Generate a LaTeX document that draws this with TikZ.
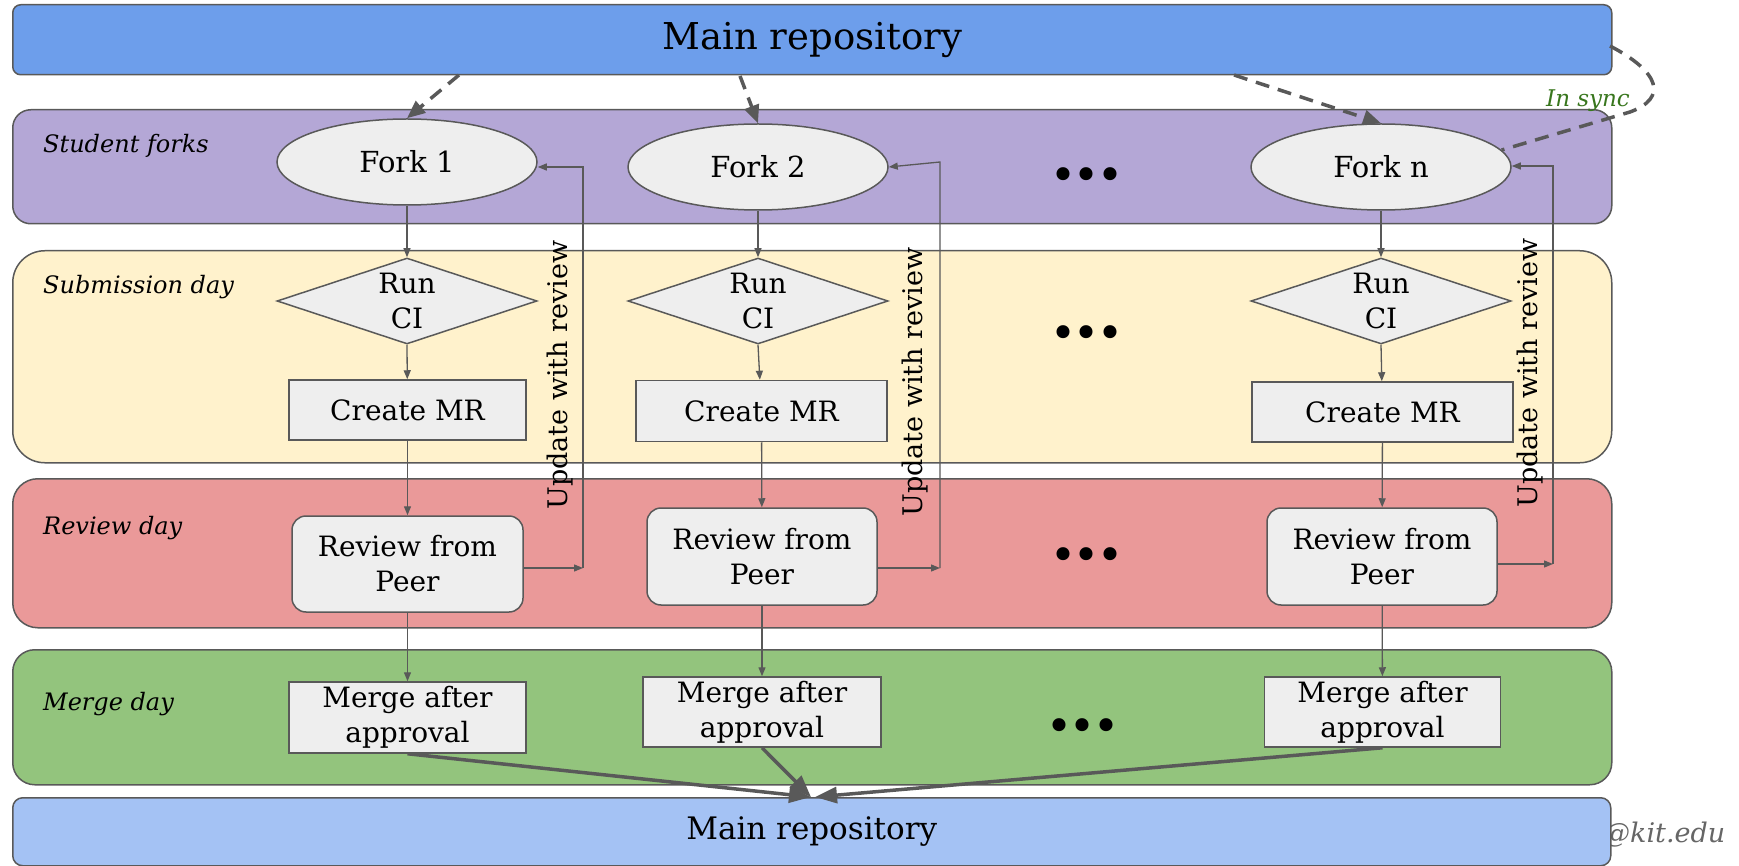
\documentclass[tikz,border=0pt]{standalone}
\usepackage{fontspec}
\setmainfont{DejaVu Serif}
\newfontfamily\dotfont{Liberation Serif}
\usetikzlibrary{shapes.geometric,arrows.meta}
\definecolor{topblue}{HTML}{6D9EEB}
\definecolor{botblue}{HTML}{A4C2F4}
\definecolor{lanepurple}{HTML}{B4A7D6}
\definecolor{laneyellow}{HTML}{FFF2CC}
\definecolor{lanered}{HTML}{EA9999}
\definecolor{lanegreen}{HTML}{93C47D}
\definecolor{boxfill}{HTML}{EEEEEE}
\definecolor{lc}{HTML}{595959}
\definecolor{syncgreen}{HTML}{38761D}
\definecolor{kitgray}{HTML}{666666}
\newcommand\fsBox{\fontsize{28}{35}\selectfont}
\newcommand\fsFork{\fontsize{29}{35}\selectfont}
\newcommand\fsLane{\itshape\fontsize{24}{28}\selectfont}
\newcommand\threedots{.\kern3.5pt.\kern3.5pt.}
\begin{document}
\begin{tikzpicture}[x=1pt,y=-1pt,
  lane/.style={draw=lc, line width=1.5pt, inner sep=0pt, anchor=north west},
  lanelbl/.style={anchor=base west, inner sep=0pt, font=\fsLane},
  fk/.style={ellipse, draw=lc, line width=1.5pt, fill=boxfill, minimum width=260pt, minimum height=86pt, inner sep=0pt, font=\fsFork},
  diam/.style={diamond, draw=lc, line width=1.5pt, fill=boxfill, minimum width=260pt, minimum height=86pt, inner sep=0pt},
  txt/.style={align=center, inner sep=0pt, font=\fsBox},
  rbox/.style={rectangle, draw=lc, line width=1.5pt, fill=boxfill, inner sep=0pt, align=center, font=\fsBox},
  revbox/.style={rbox, rounded corners=14pt},
  conn/.style={draw=lc, line width=1.3pt, -{Triangle[length=9pt,width=7pt]}},
  upd/.style={rotate=90, inner sep=0pt, font=\fontsize{27}{27}\selectfont},
  dasharr/.style={draw=lc, line width=3.5pt, dash pattern=on 14pt off 9pt, -{Triangle[length=18pt,width=15pt]}},
  dashline/.style={draw=lc, line width=3.5pt, dash pattern=on 14pt off 9pt},
  bigarr/.style={draw=lc, line width=3.5pt, -{Triangle[length=22pt,width=16pt]}},
  dots/.style={inner sep=0pt, font=\dotfont\bfseries\fontsize{80}{80}\selectfont}
]
\useasboundingbox (0,0) rectangle (1739,866);

% lanes
\node[lane, fill=topblue, rounded corners=8pt, minimum width=1599pt, minimum height=70pt, font=\fontsize{37}{37}\selectfont] (top) at (12,4) {Main repository};
\node[lane, fill=lanepurple, rounded corners=18pt, minimum width=1599pt, minimum height=114pt] (sf) at (12,109) {};
\node[lane, fill=laneyellow, rounded corners=32pt, minimum width=1599pt, minimum height=212pt] (sd) at (12,250) {};
\node[lane, fill=lanered, rounded corners=25pt, minimum width=1599pt, minimum height=149pt] (rd) at (12,478) {};
\node[lane, fill=lanegreen, rounded corners=22pt, minimum width=1599pt, minimum height=135pt] (md) at (12,649) {};
\node[anchor=base west, inner sep=0pt, text=kitgray, font=\itshape\fontsize{27}{27}\selectfont] (kit) at (1603,842) {@kit.edu};
\node[lane, fill=botblue, rounded corners=10pt, minimum width=1598pt, minimum height=68pt, font=\fontsize{31}{31}\selectfont] (bot) at (12,797) {Main repository};

\node[lanelbl] (l1) at (43,153) {Student forks};
\node[lanelbl] (l2) at (43,294) {Submission day};
\node[lanelbl] (l3) at (43,534) {Review day};
\node[lanelbl] (l4) at (43,710) {Merge day};

% column 1
\node[fk] (f1) at (407,162) {Fork 1};
\node[diam] (c1) at (407,301) {};
\node[txt] (c1t) at (c1) {Run\\CI};
\node[rbox, minimum width=237pt, minimum height=60pt] (m1) at (407.5,410) {Create MR};
\node[revbox, minimum width=231pt, minimum height=96pt] (r1) at (407.5,564) {Review from\\Peer};
\node[rbox, minimum width=237pt, minimum height=71pt] (g1) at (407.5,717.5) {Merge after\\approval};

% column 2
\node[fk] (f2) at (758,167) {Fork 2};
\node[diam] (c2) at (758,301) {};
\node[txt] (c2t) at (c2) {Run\\CI};
\node[rbox, minimum width=251pt, minimum height=61pt] (m2) at (761.5,411) {Create MR};
\node[revbox, minimum width=230pt, minimum height=97pt] (r2) at (762,556.5) {Review from\\Peer};
\node[rbox, minimum width=238pt, minimum height=70pt] (g2) at (762,712) {Merge after\\approval};

% column n
\node[fk] (fn) at (1381,167) {Fork n};
\node[diam] (cn) at (1381,301) {};
\node[txt] (cnt) at (cn) {Run\\CI};
\node[rbox, minimum width=261pt, minimum height=60pt] (mn) at (1382.5,412) {Create MR};
\node[revbox, minimum width=230pt, minimum height=97pt] (rn) at (1382,556.5) {Review from\\Peer};
\node[rbox, minimum width=236pt, minimum height=70pt] (gn) at (1382.5,712) {Merge after\\approval};

% dots
\node[dots] (d1) at (1087,174) {\threedots};
\node[dots] (d2) at (1087,332) {\threedots};
\node[dots] (d3) at (1087,554) {\threedots};
\node[dots] (d4) at (1083,725) {\threedots};

% vertical flow
\foreach \c in {1,2,n}{
  \draw[conn] (f\c) -- (c\c.north);
  \draw[conn] (c\c.south) -- (m\c);
  \draw[conn] (m\c) -- (r\c);
  \draw[conn] (r\c) -- (g\c);
}

% update loops
\coordinate (u1b) at (583,568); \coordinate (u1t) at (583,167);
\coordinate (u2b) at (940,568); \coordinate (u2t) at (940,162);
\coordinate (unb) at (1553,564); \coordinate (unt) at (1553,166);
\draw[conn] (r1.east |- u1b) -- (u1b);
\draw[conn] (u1b) -- (u1t) -- (u1t -| f1.east);
\draw[conn] (r2.east |- u2b) -- (u2b);
\draw[conn] (u2b) -- (u2t) -- (f2.east);
\draw[conn] (rn.east |- unb) -- (unb);
\draw[conn] (unb) -- (unt) -- (unt -| fn.east);
\node[upd] (t1) at (560,375) {Update with review};
\node[upd] (t2) at (915,382) {Update with review};
\node[upd] (tn) at (1530,373) {Update with review};

% fork arrows from main repository
\coordinate (s1) at (459,75);
\coordinate (s2) at (740,76);
\coordinate (s3) at (1234,75);
\draw[dasharr] (s1) -- (f1.north);
\draw[dasharr] (s2) -- (f2.north);
\draw[dasharr] (s3) -- (fn.north);

% in sync
\coordinate (y0) at (1610,46);
\draw[dashline] (y0) .. controls (1660,72) and (1668,98) .. (1630,112) -- (fn.8);
\node[anchor=base, inner sep=0pt, text=syncgreen, font=\itshape\fontsize{23}{23}\selectfont] (sync) at (1588,107) {In sync};

% merge to main
\coordinate (cv) at (811,797);
\coordinate (cvn) at (815,797);
\draw[bigarr] (g1.south) -- (cv);
\draw[bigarr] (g2.south) -- (cv);
\draw[bigarr] (gn.south) -- (cvn);
\end{tikzpicture}
\end{document}
